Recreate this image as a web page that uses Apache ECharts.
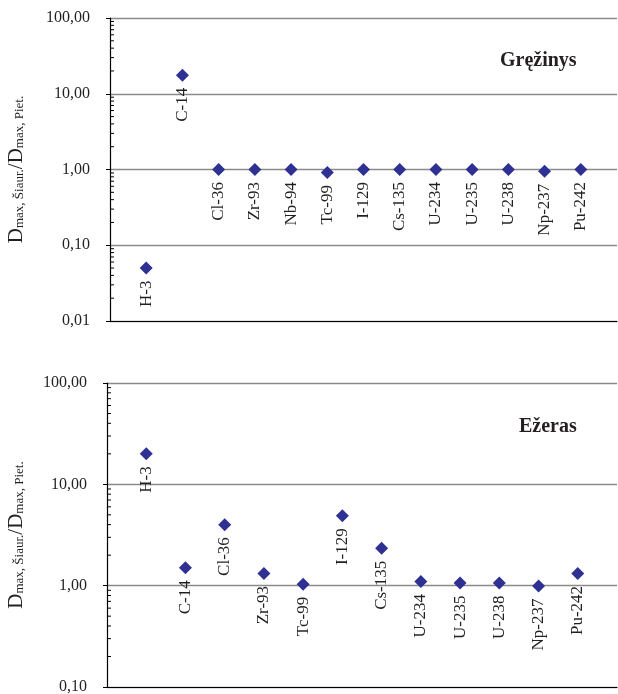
<!DOCTYPE html>
<html><head><meta charset="utf-8">
<script src="https://cdn.jsdelivr.net/npm/echarts@6/dist/echarts.min.js"></script>
<style>html,body{margin:0;padding:0;background:#fff}#c{width:618px;height:694px}</style>
</head><body><div id="c"></div>
<script>
// ---- data ----
const topCategories = ['H-3','C-14','Cl-36','Zr-93','Nb-94','Tc-99','I-129','Cs-135','U-234','U-235','U-238','Np-237','Pu-242'];
const topValues     = [0.05, 17.5, 1.0, 1.0, 1.0, 0.91, 1.0, 1.0, 1.0, 1.0, 1.0, 0.95, 1.0];
const bottomCategories = ['H-3','C-14','Cl-36','Zr-93','Tc-99','I-129','Cs-135','U-234','U-235','U-238','Np-237','Pu-242'];
const bottomValues     = [20.0, 1.5, 4.0, 1.32, 1.03, 4.9, 2.34, 1.10, 1.06, 1.06, 0.99, 1.32];
const topTitle = 'Gręžinys';
const bottomTitle = 'Ežeras';
const topRange = [0.01, 100];
const bottomRange = [0.1, 100];

const FONT = '"Liberation Serif", "DejaVu Serif", serif';
const TXT = '#231f20';
const MARK = '#2e3192';

function minorValues(range){
  const out = [];
  for (let d = range[0]; d < range[1]*0.999; d *= 10){
    for (let m = 2; m <= 9; m++) out.push([0, +(d*m).toPrecision(6)]);
  }
  return out;
}
function fmt(v){ return v.toFixed(2).replace('.', ','); }

const nameRich = {
  D: {fontFamily: FONT, fontSize: 21, color: TXT, verticalAlign: 'bottom'},
  s: {fontFamily: FONT, fontSize: 13, color: TXT, verticalAlign: 'bottom', padding:[0,0,1,0]}
};
const axisName = '{D|D}{s|max, Šiaur.}{D|/D}{s|max, Piet.}';

function xAxisFor(cats, gi){
  return {
    type: 'category', gridIndex: gi, data: [''].concat(cats, ['']), boundaryGap: false,
    axisLine: {show: true, lineStyle: {color: '#000', width: 1.2}},
    axisTick: {show: false}, axisLabel: {show: false}, splitLine: {show: false}
  };
}
function yAxisFor(range, gi, gap){
  return {
    type: 'log', logBase: 10, gridIndex: gi, min: range[0], max: range[1],
    name: axisName, nameLocation: 'middle', nameGap: gap, nameRotate: 90,
    nameTextStyle: {rich: nameRich},
    axisLine: {show: true, lineStyle: {color: '#000', width: 1.2}},
    axisTick: {show: true, length: 4, lineStyle: {color: '#000'}},
    axisLabel: {formatter: fmt, fontFamily: FONT, fontSize: 16, color: TXT, margin: 20},
    splitLine: {show: true, lineStyle: {color: '#8a8a8a', width: 1.4}}
  };
}
function scatterFor(cats, vals, xi){
  return {
    type: 'scatter', xAxisIndex: xi, yAxisIndex: xi, symbol: 'diamond', symbolSize: 13,
    itemStyle: {color: MARK, opacity: 1},
    label: {show: true, position: 'bottom', distance: 6, rotate: 90, align: 'right', verticalAlign: 'middle',
            formatter: '{b}', fontFamily: FONT, fontSize: 17, color: TXT},
    data: vals.map((v, i) => ({name: cats[i], value: [i + 1, v]}))
  };
}
function minorFor(range, xi){
  return {
    type: 'custom', xAxisIndex: xi, yAxisIndex: xi, silent: true, z: 1,
    renderItem: function(params, api){
      const p = api.coord([api.value(0), api.value(1)]);
      return {type: 'line', shape: {x1: p[0], y1: p[1], x2: p[0] + 4, y2: p[1]},
              style: {stroke: '#000', lineWidth: 1}};
    },
    data: minorValues(range)
  };
}

const chart = echarts.init(document.getElementById('c'), null, {renderer: 'canvas'});
chart.setOption({
  animation: false,
  backgroundColor: '#fff',
  title: [
    {text: topTitle, left: 495, top: 46, textStyle: {fontFamily: FONT, fontSize: 20, fontWeight: 'bold', color: TXT}},
    {text: bottomTitle, left: 514, top: 412, textStyle: {fontFamily: FONT, fontSize: 20, fontWeight: 'bold', color: TXT}}
  ],
  grid: [
    {left: 110, right: 1, top: 18, height: 303, outerBoundsMode: 'none', containLabel: false},
    {left: 107, right: 1, top: 383, height: 304, outerBoundsMode: 'none', containLabel: false}
  ],
  xAxis: [xAxisFor(topCategories, 0), xAxisFor(bottomCategories, 1)],
  yAxis: [yAxisFor(topRange, 0, 83), yAxisFor(bottomRange, 1, 80)],
  series: [
    minorFor(topRange, 0), minorFor(bottomRange, 1),
    scatterFor(topCategories, topValues, 0), scatterFor(bottomCategories, bottomValues, 1)
  ]
});
</script></body></html>
